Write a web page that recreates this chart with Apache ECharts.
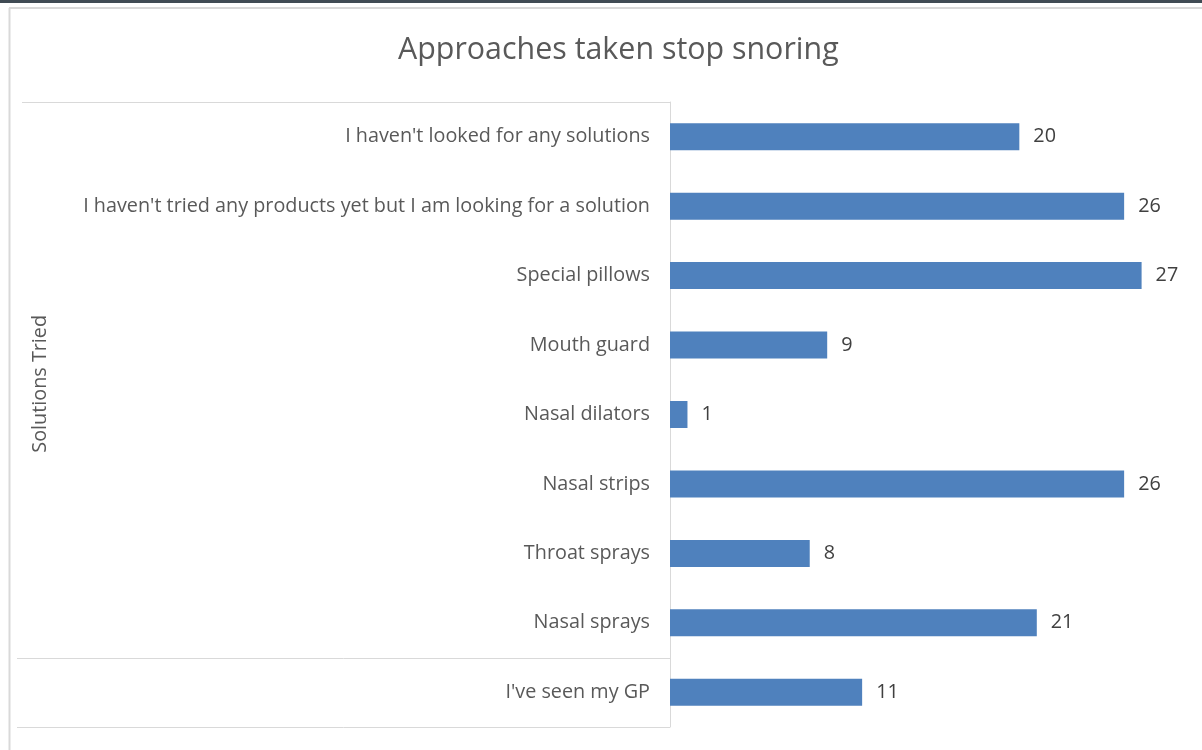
<!DOCTYPE html>
<html>
<head>
<meta charset="utf-8">
<style>
  html, body { margin: 0; padding: 0; background: #ffffff; }
  #chart { width: 1202px; height: 750px; }
</style>
<script src="https://cdn.jsdelivr.net/npm/echarts@6/dist/echarts.min.js"></script>
</head>
<body>
<div id="chart"></div>
<script>
// Survey answers, top to bottom
const categories = [
  "I haven't looked for any solutions",
  "I haven't tried any products yet but I am looking for a solution",
  "Special pillows",
  "Mouth guard",
  "Nasal dilators",
  "Nasal strips",
  "Throat sprays",
  "Nasal sprays",
  "I've seen my GP"
];
const counts = [20, 26, 27, 9, 1, 26, 8, 21, 11];
// Outer grouping level of the category axis: label and how many rows it spans
const groupLabels = ["Solutions Tried", ""];
const groupSizes = [8, 1];

const FONT = '"Open Sans", Lato, sans-serif';
const chart = echarts.init(document.getElementById('chart'));

const option = {
  animation: false,
  backgroundColor: '#ffffff',
  title: {
    text: 'Approaches taken stop snoring',
    left: 398,
    top: 35,
    padding: 0,
    textStyle: { fontFamily: FONT, fontSize: 30.4, fontWeight: 'normal', color: '#595959' }
  },
  grid: { left: 670, right: 8, top: 102, bottom: 23, containLabel: false },
  xAxis: {
    type: 'value', min: 0, max: 30, show: false
  },
  yAxis: {
    type: 'category',
    data: categories,
    inverse: true,
    axisLine: { show: true, lineStyle: { color: '#d9d9d9', width: 1 } },
    axisTick: { show: false },
    axisLabel: { fontFamily: FONT, fontSize: 19.8, color: '#595959', margin: 20, padding: [2, 0, 0, 0] }
  },
  series: [{
    type: 'bar',
    data: counts,
    barWidth: 27,
    itemStyle: { color: '#4f81bd' },
    label: {
      show: true, position: 'right', distance: 14,
      fontFamily: FONT, fontSize: 19.8, color: '#404040'
    }
  }]
};
chart.setOption(option);

// Frame and grouped-axis table drawn from the category scale
function drawDecor() {
  const rowY = (i) => chart.convertToPixel({ yAxisIndex: 0 }, i);
  const step = rowY(1) - rowY(0);
  const edge = (i) => rowY(i) - step / 2;   // top edge of row i
  const axisX = 670;
  const lineColor = '#d9d9d9';
  const g = [];
  // window frame
  g.push({ type: 'rect', shape: { x: 0, y: 0, width: 1202, height: 3 }, style: { fill: '#404b54' } });
  g.push({ type: 'line', shape: { x1: 9, y1: 8, x2: 1202, y2: 8 }, style: { stroke: lineColor, lineWidth: 2 } });
  g.push({ type: 'line', shape: { x1: 9.5, y1: 8, x2: 9.5, y2: 750 }, style: { stroke: lineColor, lineWidth: 2 } });
  // group separators
  let start = 0;
  g.push({ type: 'line', shape: { x1: 22, y1: Math.round(edge(0)) + 0.5, x2: axisX, y2: Math.round(edge(0)) + 0.5 }, style: { stroke: lineColor, lineWidth: 1 } });
  groupSizes.forEach((n, k) => {
    const end = start + n;
    const yEnd = Math.round(edge(end)) + 0.5;
    g.push({ type: 'line', shape: { x1: 17, y1: yEnd, x2: axisX, y2: yEnd }, style: { stroke: lineColor, lineWidth: 1 } });
    if (groupLabels[k]) {
      const yc = (edge(start) + edge(end)) / 2 + 4;
      g.push({
        type: 'text', x: 40, y: yc, rotation: Math.PI / 2,
        style: { text: groupLabels[k], fontFamily: FONT, fontSize: 19.8, fill: '#595959', align: 'center', verticalAlign: 'middle' }
      });
    }
    start = end;
  });
  chart.setOption({ graphic: g });
}
drawDecor();
</script>
</body>
</html>
